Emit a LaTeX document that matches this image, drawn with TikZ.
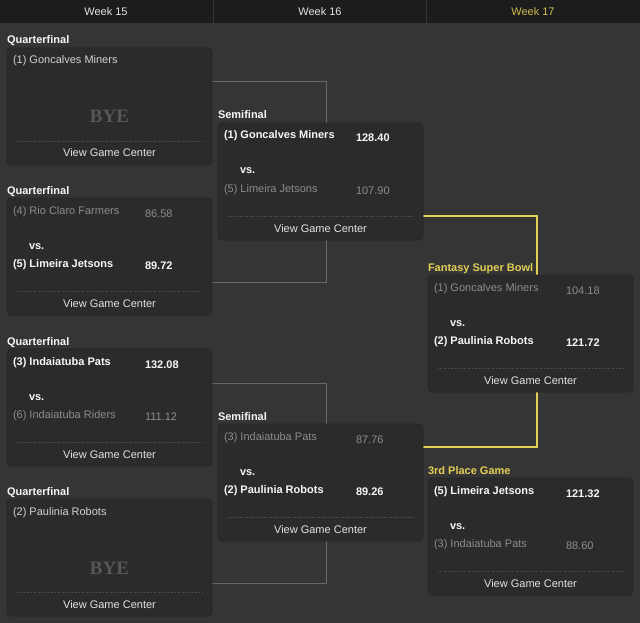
\documentclass[tikz,border=0pt]{standalone}
\usepackage{fontspec}
\setmainfont{Liberation Sans}
\newfontfamily\byefont{Liberation Serif}
\usetikzlibrary{calc}
\definecolor{bgc}{HTML}{353535}
\definecolor{hdr}{HTML}{1C1C1C}
\definecolor{boxc}{HTML}{2B2B2B}
\definecolor{boxe}{HTML}{262626}
\definecolor{losec}{HTML}{8C8C8C}
\definecolor{winc}{HTML}{F7F7F7}
\definecolor{footc}{HTML}{E2E2E2}
\definecolor{gold}{HTML}{E3CF57}
\definecolor{goldh}{HTML}{CDBB4F}
\definecolor{navy}{HTML}{1C1C45}
\definecolor{connc}{HTML}{686868}
\definecolor{byec}{HTML}{575757}
\pgfdeclarelayer{back}
\pgfdeclarelayer{conn}
\pgfsetlayers{back,conn,main}
\tikzset{
  every node/.style={inner sep=0pt, outer sep=0pt, font=\fontsize{11}{13}\selectfont},
  gbox/.style={anchor=north west, minimum width=205pt, minimum height=117pt,
    rounded corners=4pt, fill=boxc, draw=boxe, line width=0.8pt},
  win/.style={text=winc, font=\fontsize{11}{13}\selectfont\bfseries, anchor=base west},
  lose/.style={text=losec, anchor=base west},
  vstext/.style={text=winc, font=\fontsize{11}{13}\selectfont\bfseries, anchor=base west},
  foot/.style={text=footc, anchor=base},
  rlabel/.style={text=winc, font=\fontsize{11}{13}\selectfont\bfseries, anchor=base west},
  glabel/.style={text=gold, font=\fontsize{11}{13}\selectfont\bfseries, anchor=base west},
  byetext/.style={text=byec, font=\fontsize{19}{21}\selectfont\byefont\bfseries, anchor=base},
  greyconn/.style={draw=connc, line width=1pt},
  wk/.style={text=footc, anchor=base}
}
% box helpers
\newcommand\gamebox[5]{% name, L, T, label style, label
  \node[gbox] (#1) at (#2,#3) {};
  \node[#4] (#1-lbl) at ([shift={(0,-4)}]#1.north west) {#5};
  \node[foot] (#1-foot) at ([shift={(0,109)}]#1.north) {View Game Center};
  \draw[draw=byec, line width=0.6pt, dash pattern=on 0.8pt off 1.6pt]
    ([shift={(10,93.5)}]#1.north west) -- ([shift={(-10,93.5)}]#1.north east);
}
\newcommand\teamone[4]{% box, style, name, score
  \node[#2] (#1-t1) at ([shift={(6,16)}]#1.north west) {#3};
  \node[#2] (#1-s1) at ([shift={(138,19)}]#1.north west) {#4};
}
\newcommand\teamtwo[4]{%
  \node[vstext] (#1-vs) at ([shift={(22,51)}]#1.north west) {vs.};
  \node[#2] (#1-t2) at ([shift={(6,69)}]#1.north west) {#3};
  \node[#2] (#1-s2) at ([shift={(138,71)}]#1.north west) {#4};
}
\newcommand\byeteam[2]{% box, name
  \node[lose, text=winc!85!black] (#1-t1) at ([shift={(6,16)}]#1.north west) {#2};
  \node[byetext] (#1-bye) at ([shift={(0,75)}]#1.north) {BYE};
}
\begin{document}
\begin{tikzpicture}[x=1pt, y=-1pt]
\useasboundingbox (0,0) rectangle (640,623);
\begin{pgfonlayer}{back}
  \fill[bgc] (0,0) rectangle (640,623);
  \fill[hdr] (0,0) rectangle (640,23.5);
  \draw[draw=bgc, line width=0.8pt] (213,0) -- (213,23.5) (426,0) -- (426,23.5);
\end{pgfonlayer}
\node[wk] (w15) at (106,16) {Week 15};
\node[wk] (w16) at (320,16) {Week 16};
\node[wk, text=goldh] (w17) at (533,16) {Week 17};

% Quarterfinals
\gamebox{qf1}{7}{48}{rlabel}{Quarterfinal}
\byeteam{qf1}{(1) Goncalves Miners}

\gamebox{qf2}{7}{198}{rlabel}{Quarterfinal}
\teamone{qf2}{lose}{(4) Rio Claro Farmers}{86.58}
\teamtwo{qf2}{win}{(5) Limeira Jetsons}{89.72}

\gamebox{qf3}{7}{349}{rlabel}{Quarterfinal}
\teamone{qf3}{win}{(3) Indaiatuba Pats}{132.08}
\teamtwo{qf3}{lose}{(6) Indaiatuba Riders}{111.12}

\gamebox{qf4}{7}{499}{rlabel}{Quarterfinal}
\byeteam{qf4}{(2) Paulinia Robots}

% Semifinals
\gamebox{sf1}{218}{123}{rlabel}{Semifinal}
\teamone{sf1}{win}{(1) Goncalves Miners}{128.40}
\teamtwo{sf1}{lose}{(5) Limeira Jetsons}{107.90}

\gamebox{sf2}{218}{424}{rlabel}{Semifinal}
\teamone{sf2}{lose}{(3) Indaiatuba Pats}{87.76}
\teamtwo{sf2}{win}{(2) Paulinia Robots}{89.26}

% Final
\gamebox{fin}{428}{275}{glabel}{Fantasy Super Bowl}
\teamone{fin}{lose}{(1) Goncalves Miners}{104.18}
\teamtwo{fin}{win}{(2) Paulinia Robots}{121.72}

\gamebox{third}{428}{478}{glabel}{3rd Place Game}
\teamone{third}{win}{(5) Limeira Jetsons}{121.32}
\teamtwo{third}{lose}{(3) Indaiatuba Pats}{88.60}

% connectors
\coordinate (jt) at (326,0);
\coordinate (jf) at (537,0);
\begin{pgfonlayer}{conn}
  \draw[greyconn] ([shift={(0,34)}]qf1.north east) -- ([shift={(0,34)}]qf1.north east -| jt)
     -- ([shift={(0,84)}]qf2.north east -| jt) -- ([shift={(0,84)}]qf2.north east);
  \draw[greyconn] ([shift={(0,34)}]qf3.north east) -- ([shift={(0,34)}]qf3.north east -| jt)
     -- ([shift={(0,84)}]qf4.north east -| jt) -- ([shift={(0,84)}]qf4.north east);
  \foreach \w/\c in {2.6/navy, 1.3/gold}{
    \draw[draw=\c, line width=\w pt] ([shift={(0,93)}]sf1.north east) -- ([shift={(0,93)}]sf1.north east -| jf) -- (fin.north -| jf);
    \draw[draw=\c, line width=\w pt] (fin.south -| jf) -- ([shift={(0,23)}]sf2.north east -| jf) -- ([shift={(0,23)}]sf2.north east);
  }
\end{pgfonlayer}
\end{tikzpicture}
\end{document}
